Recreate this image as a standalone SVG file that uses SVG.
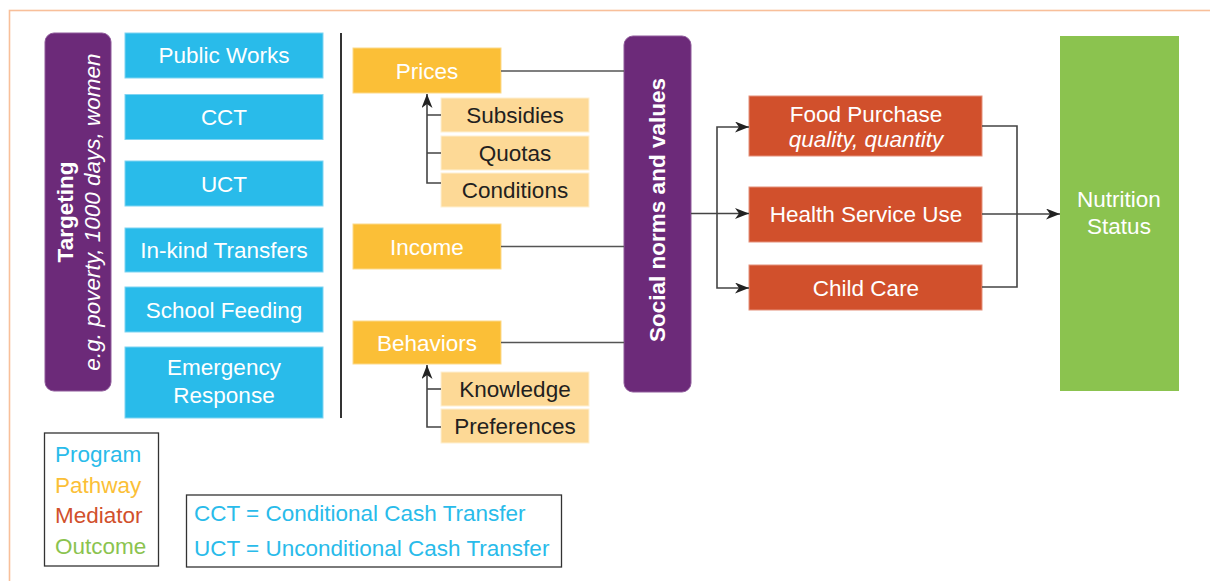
<svg xmlns="http://www.w3.org/2000/svg" width="1210" height="581" viewBox="0 0 1210 581">
  <style>
    text { font-family: "Liberation Sans", Arial, sans-serif; font-size: 22.5px; }
    .w { fill: #ffffff; text-anchor: middle; }
    .d { fill: #231f20; text-anchor: middle; }
    .b { font-weight: bold; }
    .i { font-style: italic; }
    .prog { fill: #29bbea; stroke: #7fd4f2; stroke-width: 1; }
    .path { fill: #fbbf37; stroke: #fcd98a; stroke-width: 1; }
    .sub { fill: #fdd996; stroke: #fef0d2; stroke-width: 1; }
    .med { fill: #d1502c; stroke: #e4907a; stroke-width: 1; }
    .out { fill: #8bc34f; }
    .band { fill: #6c2a79; stroke: #8f5a9b; stroke-width: 1; }
    .ln { fill: none; stroke: #555555; stroke-width: 1.6; }
    .ar { fill: none; stroke: #444444; stroke-width: 1.6; }
    .lg { fill: #ffffff; stroke: #333333; stroke-width: 1.3; }
  </style>
  <defs>
    <marker id="arrow" markerUnits="userSpaceOnUse" markerWidth="16" markerHeight="12" refX="14" refY="5.5" orient="auto">
      <path d="M0,0 L14,5.5 L0,11 L4,5.5 z" fill="#222222"/>
    </marker>
  </defs>

  <!-- page frame -->
  <rect x="9.5" y="10.5" width="1220" height="600" fill="#ffffff" stroke="#f8bf9a" stroke-width="1.6"/>

  <!-- targeting band -->
  <g id="targeting">
    <rect class="band" x="45" y="33" width="66" height="358" rx="9"/>
    <text class="w b" transform="translate(73,212) rotate(-90)">Targeting</text>
    <text class="w i" transform="translate(100,212) rotate(-90)">e.g. poverty, 1000 days, women</text>
  </g>

  <!-- programs -->
  <g id="public-works"><rect class="prog" x="125" y="33" width="198" height="45"/><text class="w" x="224" y="63">Public Works</text></g>
  <g id="cct"><rect class="prog" x="125" y="94.5" width="198" height="45"/><text class="w" x="224" y="125">CCT</text></g>
  <g id="uct"><rect class="prog" x="125" y="161" width="198" height="45"/><text class="w" x="224" y="191.5">UCT</text></g>
  <g id="in-kind"><rect class="prog" x="125" y="228" width="198" height="44"/><text class="w" x="224" y="258">In-kind Transfers</text></g>
  <g id="school-feeding"><rect class="prog" x="125" y="287" width="198" height="45"/><text class="w" x="224" y="317.5">School Feeding</text></g>
  <g id="emergency"><rect class="prog" x="125" y="347" width="198" height="71"/><text class="w" x="224" y="375">Emergency</text><text class="w" x="224" y="403">Response</text></g>

  <!-- divider -->
  <line x1="341" y1="33" x2="341" y2="418" stroke="#333333" stroke-width="2"/>

  <!-- pathways -->
  <g id="prices"><rect class="path" x="353" y="48" width="148" height="45"/><text class="w" x="427" y="78.5">Prices</text></g>
  <g id="subsidies"><rect class="sub" x="441" y="98" width="148" height="34"/><text class="d" x="515" y="123">Subsidies</text></g>
  <g id="quotas"><rect class="sub" x="441" y="136" width="148" height="34"/><text class="d" x="515" y="161">Quotas</text></g>
  <g id="conditions"><rect class="sub" x="441" y="173" width="148" height="34"/><text class="d" x="515" y="198">Conditions</text></g>
  <g id="income"><rect class="path" x="353" y="224" width="148" height="45"/><text class="w" x="427" y="254.5">Income</text></g>
  <g id="behaviors"><rect class="path" x="353" y="321" width="148" height="43"/><text class="w" x="427" y="350.5">Behaviors</text></g>
  <g id="knowledge"><rect class="sub" x="441" y="372" width="148" height="34"/><text class="d" x="515" y="397">Knowledge</text></g>
  <g id="preferences"><rect class="sub" x="441" y="409" width="148" height="34"/><text class="d" x="515" y="434">Preferences</text></g>

  <!-- social norms band -->
  <g id="social-norms">
    <rect class="band" x="624" y="36" width="67" height="356" rx="9"/>
    <text class="w b" transform="translate(665,210) rotate(-90)">Social norms and values</text>
  </g>

  <!-- mediators -->
  <g id="food-purchase"><rect class="med" x="749" y="96" width="233" height="60"/><text class="w" x="866" y="122">Food Purchase</text><text class="w i" x="866" y="147">quality, quantity</text></g>
  <g id="health-service"><rect class="med" x="749" y="187" width="233" height="55"/><text class="w" x="866" y="222">Health Service Use</text></g>
  <g id="child-care"><rect class="med" x="749" y="265" width="233" height="45"/><text class="w" x="866" y="295.5">Child Care</text></g>

  <!-- outcome -->
  <g id="nutrition-status"><rect class="out" x="1060" y="36" width="119" height="355"/><text class="w" x="1119" y="207">Nutrition</text><text class="w" x="1119" y="234">Status</text></g>

  <!-- connectors -->
  <g id="connectors">
    <path class="ln" d="M501,71 H624"/>
    <path class="ln" d="M501,246.5 H624"/>
    <path class="ln" d="M501,342.5 H624"/>
    <path class="ar" d="M441,183 H427 V94" marker-end="url(#arrow)"/>
    <path class="ar" d="M427,115 H441 M427,153 H441"/>
    <path class="ar" d="M441,427 H427 V365" marker-end="url(#arrow)"/>
    <path class="ar" d="M427,389 H441"/>
    <path class="ar" d="M691,213.5 H749" marker-end="url(#arrow)"/>
    <path class="ar" d="M717,213.5 V127 H749" marker-end="url(#arrow)"/>
    <path class="ar" d="M717,213.5 V288 H749" marker-end="url(#arrow)"/>
    <path class="ar" d="M982,126 H1017 V287 H982"/>
    <path class="ar" d="M982,214 H1060" marker-end="url(#arrow)"/>
  </g>

  <!-- legends -->
  <g id="legend-colours">
    <rect class="lg" x="44.5" y="433" width="114" height="133"/>
    <text x="55" y="462" fill="#29bbea">Program</text>
    <text x="55" y="493" fill="#fbbf37">Pathway</text>
    <text x="55" y="523" fill="#d1502c">Mediator</text>
    <text x="55" y="554" fill="#8bc34f">Outcome</text>
  </g>
  <g id="legend-abbreviations">
    <rect class="lg" x="186.5" y="495" width="375" height="72"/>
    <text x="194" y="521" fill="#29bbea">CCT = Conditional Cash Transfer</text>
    <text x="194" y="556" fill="#29bbea">UCT = Unconditional Cash Transfer</text>
  </g>
</svg>
